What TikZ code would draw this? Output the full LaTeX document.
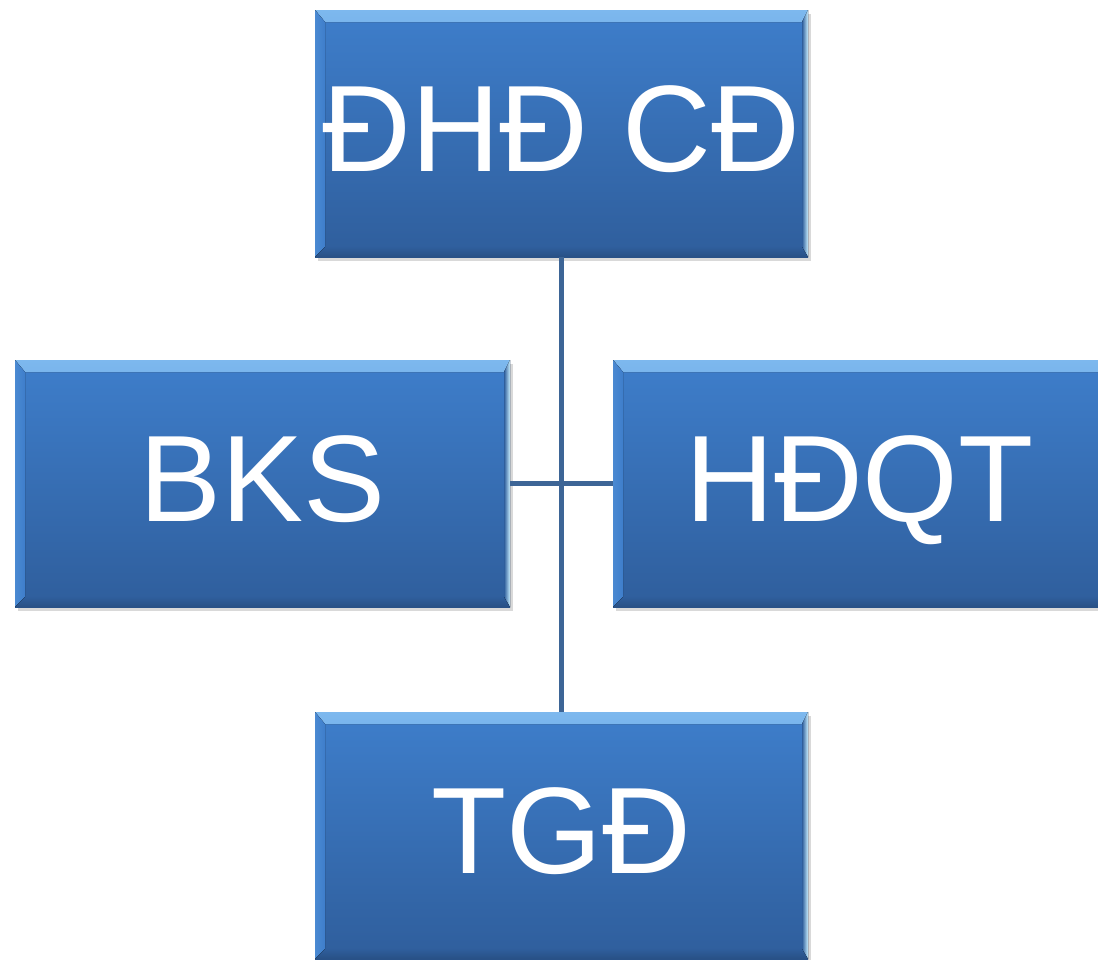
\documentclass[tikz,border=0pt]{standalone}
\usepackage{fontspec}
\newfontfamily\boxfamily{Liberation Sans}
\usetikzlibrary{shadows}
\definecolor{boxtop}{HTML}{3E7ECB}
\definecolor{boxbot}{HTML}{2F5E9C}
\definecolor{bevlight}{HTML}{7DB8EE}
\definecolor{bevright}{HTML}{C8EEFF}
\definecolor{linecol}{HTML}{3D6596}
\tikzset{
  orgbox/.style={draw=none, inner sep=0pt, minimum width=493pt, minimum height=247pt,
    top color=boxtop, bottom color=boxbot, text=white,
    font=\boxfamily\fontsize{123}{125}\selectfont,
    text height=88pt, text depth=12pt,
    drop shadow={shadow xshift=3pt, shadow yshift=-4pt, opacity=0.3, fill=gray},
    path picture={
      \fill[top color=bevlight, bottom color=boxtop]
        (path picture bounding box.north west) -- (path picture bounding box.north east)
        -- ([xshift=-6pt,yshift=-12pt]path picture bounding box.north east)
        -- ([xshift=10pt,yshift=-12pt]path picture bounding box.north west) -- cycle;
      \fill[left color=boxtop!80!bevlight, right color=boxtop]
        (path picture bounding box.north west) -- ([xshift=10pt,yshift=-12pt]path picture bounding box.north west)
        -- ([xshift=10pt,yshift=10pt]path picture bounding box.south west)
        -- (path picture bounding box.south west) -- cycle;
      \fill[left color=boxbot, right color=bevright]
        ([xshift=-6pt,yshift=-12pt]path picture bounding box.north east) -- (path picture bounding box.north east)
        -- (path picture bounding box.south east) -- ([xshift=-6pt,yshift=10pt]path picture bounding box.south east) -- cycle;
      \fill[top color=boxbot, bottom color=boxbot!85!black]
        ([xshift=10pt,yshift=10pt]path picture bounding box.south west) -- ([xshift=-6pt,yshift=10pt]path picture bounding box.south east)
        -- (path picture bounding box.south east) -- (path picture bounding box.south west) -- cycle;
    }},
  conn/.style={draw=linecol, line width=5pt}
}
\begin{document}
\begin{tikzpicture}[x=1pt,y=-1pt]
\useasboundingbox (0,0) rectangle (1098,959);
\clip (0,0) rectangle (1098,959);
\node[orgbox] (dhd) at (561.5,133.5) {ĐHĐ CĐ};
\node[orgbox, minimum width=495pt] (bks) at (262.5,483.5) {BKS};
\node[orgbox] (hdqt) at (859.5,483.5) {HĐQT};
\node[orgbox] (tgd) at (561.5,835.5) {TGĐ};
\draw[conn] (dhd.south) -- (tgd.north);
\draw[conn] (bks.east) -- (hdqt.west);
\end{tikzpicture}
\end{document}
